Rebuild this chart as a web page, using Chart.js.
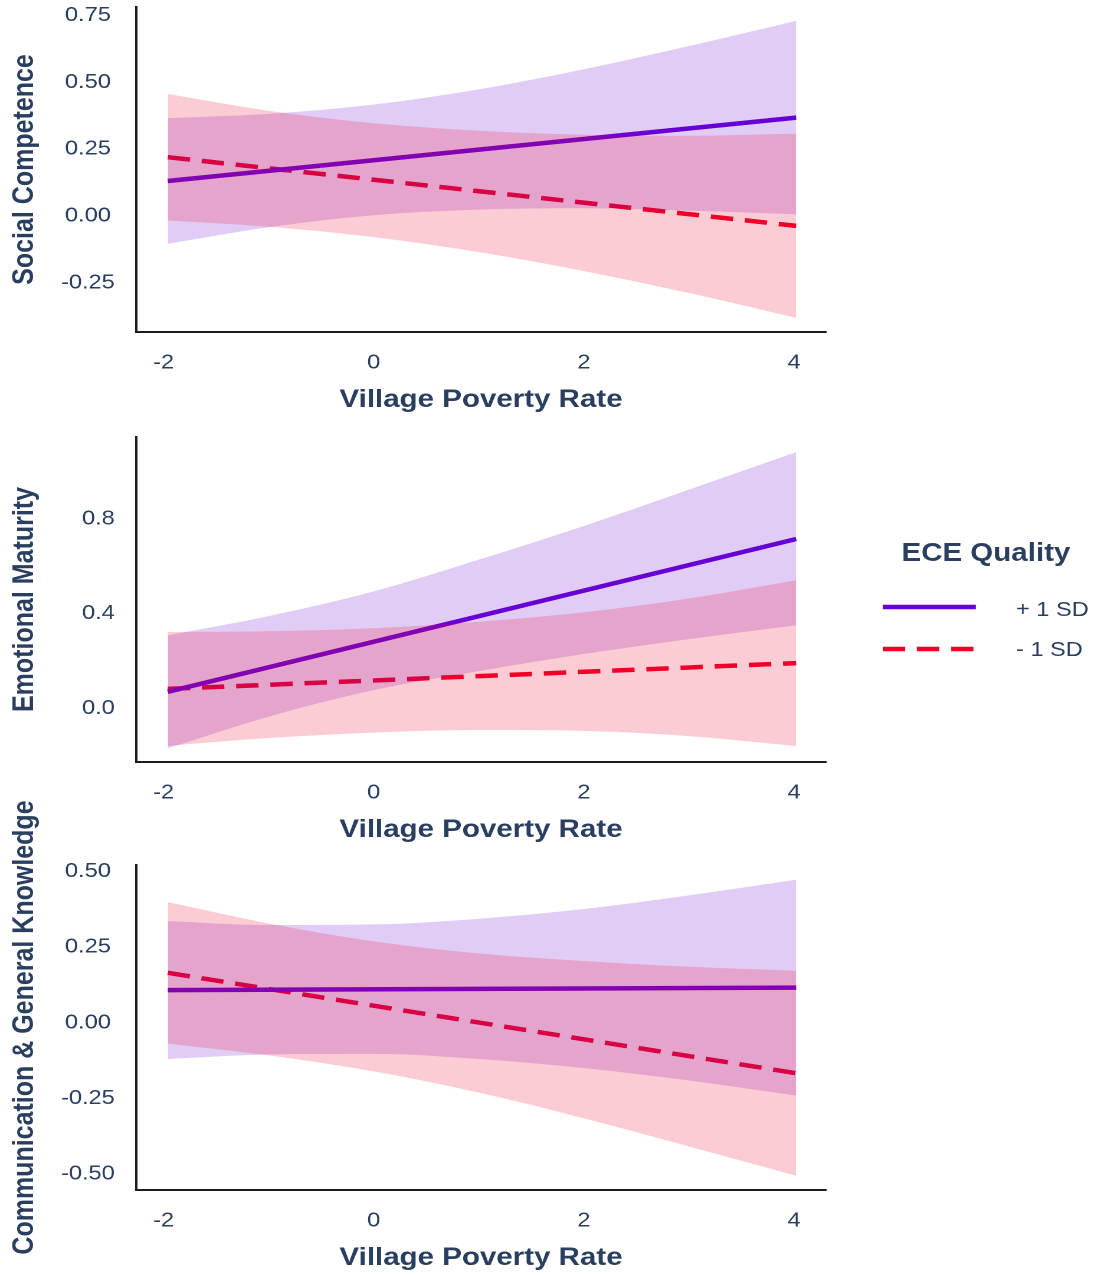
<!DOCTYPE html>
<html>
<head>
<meta charset="utf-8">
<title>ECE Quality × Village Poverty Rate</title>
<script src="https://cdn.jsdelivr.net/npm/chart.js@4/dist/chart.umd.min.js"></script>
<style>
  html, body { margin: 0; padding: 0; background: #ffffff; overflow: hidden; }
  /* the whole figure is laid out on a 927px-wide stage and widened to the page */
  #stage { position: absolute; left: 0; top: 0; width: 927px; height: 1275px;
           transform: scaleX(1.18); transform-origin: 0 0; }
  #stage canvas { position: absolute; left: 0; }
  .legend-title { position: absolute; left: 764px; top: 537px; white-space: nowrap;
                  font: bold 25px 'Liberation Sans', Arial, sans-serif; line-height: 30px; color: #2a3f5f; }
  .legend-label { position: absolute; left: 861px; white-space: nowrap;
                  font: 20px 'Liberation Sans', Arial, sans-serif; line-height: 24px; color: #2a3f5f; }
  #legendLines { position: absolute; left: 748px; top: 597px; }
</style>
</head>
<body>
<div id="stage">
  <canvas id="social" width="720" height="428" style="top:-13px"></canvas>
  <canvas id="emotion" width="720" height="428" style="top:417px"></canvas>
  <canvas id="comm" width="720" height="493" style="top:780px"></canvas>
  <div id="legend"></div>
</div>
<script>
// ---- x grid (village poverty rate, standardized) ----
const povertyGrid = [-1.96, -1, 0, 1, 2, 3, 4.02];
const lineEnds = [-1.96, 4.02];
const povertyTicks = [-2, 0, 2, 4];

// ---- series ----
const seriesLabels = ['+ 1 SD', '- 1 SD'];
const legendTitle = 'ECE Quality';
const xTitle = 'Village Poverty Rate';

// Social Competence
const socialHighFit   = [0.131, 0.368];
const socialLowFit    = [0.220, -0.037];
const socialHighUpper = [0.366, 0.382, 0.417, 0.474, 0.549, 0.636, 0.730];
const socialHighLower = [-0.104, -0.042, 0.003, 0.024, 0.029, 0.020, 0.006];
const socialLowUpper  = [0.457, 0.394, 0.347, 0.319, 0.304, 0.300, 0.308];
const socialLowLower  = [-0.017, -0.040, -0.079, -0.135, -0.206, -0.288, -0.381];
const socialTicks = [-0.25, 0, 0.25, 0.5, 0.75];

// Emotional Maturity
const emotionHighFit   = [0.071, 0.715];
const emotionLowFit    = [0.083, 0.192];
const emotionHighUpper = [0.309, 0.390, 0.494, 0.628, 0.770, 0.923, 1.081];
const emotionHighLower = [-0.167, -0.034, 0.078, 0.158, 0.230, 0.293, 0.351];
const emotionLowUpper  = [0.323, 0.326, 0.339, 0.366, 0.406, 0.464, 0.541];
const emotionLowLower  = [-0.157, -0.124, -0.101, -0.090, -0.094, -0.116, -0.158];
const emotionTicks = [0, 0.4, 0.8];

// Communication & General Knowledge
const commHighFit   = [0.108, 0.116];
const commLowFit    = [0.165, -0.167];
const commHighUpper = [0.336, 0.323, 0.325, 0.344, 0.376, 0.421, 0.473];
const commHighLower = [-0.120, -0.105, -0.103, -0.120, -0.150, -0.191, -0.241];
const commLowUpper  = [0.399, 0.328, 0.269, 0.229, 0.204, 0.185, 0.172];
const commLowLower  = [-0.069, -0.108, -0.161, -0.231, -0.316, -0.409, -0.506];
const commTicks = [-0.5, -0.25, 0, 0.25, 0.5];

// ---- styling ----
const FONT = "'Liberation Sans', Arial, Helvetica, sans-serif";
const TEXT = '#2a3f5f';
const AXIS = '#1c1c1c';
const HIGH_LINE = 'rgb(104, 0, 214)';
const LOW_LINE = 'rgb(238, 0, 40)';
const HIGH_BAND = 'rgba(102, 0, 204, 0.2)';
const LOW_BAND = 'rgba(240, 0, 40, 0.2)';
const LOW_DASH = [19, 10];
const LINE_W = 4.5;
const CLEAR = 'rgba(0,0,0,0)';

Chart.defaults.font.family = FONT;

function pts(xs, ys) { return xs.map((x, i) => ({ x: x, y: ys[i] })); }

function bandSet(xs, ys, fillColor, target, order) {
  return {
    data: pts(xs, ys), borderColor: CLEAR, borderWidth: 1, pointRadius: 0,
    backgroundColor: fillColor, fill: target === null ? false : { target: target },
    cubicInterpolationMode: 'monotone', order: order
  };
}

function buildPanel(id, padTop, spec) {
  const datasets = [
    { label: seriesLabels[0], data: pts(lineEnds, spec.highFit), borderColor: HIGH_LINE,
      borderWidth: LINE_W, pointRadius: 0, fill: false, order: 3 },
    { label: seriesLabels[1], data: pts(lineEnds, spec.lowFit), borderColor: LOW_LINE,
      borderWidth: LINE_W, borderDash: LOW_DASH, pointRadius: 0, fill: false, order: 3 },
    bandSet(povertyGrid, spec.highLower, HIGH_BAND, null, 2),
    bandSet(povertyGrid, spec.highUpper, HIGH_BAND, 2, 2),
    bandSet(povertyGrid, spec.lowLower, LOW_BAND, null, 1),
    bandSet(povertyGrid, spec.lowUpper, LOW_BAND, 4, 1)
  ];
  return new Chart(document.getElementById(id), {
    type: 'line',
    data: { datasets: datasets },
    options: {
      responsive: false,
      animation: false,
      devicePixelRatio: 2,
      layout: { padding: { top: padTop, left: 0, right: 20, bottom: 0 } },
      plugins: { legend: { display: false }, tooltip: { enabled: false } },
      scales: {
        x: {
          type: 'linear', min: -2.262, max: 4.304,
          afterBuildTicks: s => { s.ticks = povertyTicks.map(v => ({ value: v })); },
          afterFit: s => { s.height = 83; },
          grid: { display: false, drawTicks: false },
          border: { display: true, color: AXIS, width: 2 },
          ticks: { padding: 19, color: TEXT, font: { size: 20 }, maxRotation: 0, autoSkip: false,
                   callback: v => String(v) },
          title: { display: true, text: xTitle, color: TEXT,
                   font: { size: 25, weight: 'bold' }, padding: { top: 0, bottom: 0 } }
        },
        y: {
          min: spec.yMin, max: spec.yMax,
          afterBuildTicks: s => { s.ticks = spec.ticks.map(v => ({ value: v })); },
          afterFit: s => { s.width = 115.3; },
          grid: { display: false, drawTicks: true, tickLength: 18 },
          border: { display: true, color: AXIS, width: 2 },
          ticks: { padding: 0, crossAlign: 'center', color: TEXT, font: { size: 20 },
                   callback: v => Number(v).toFixed(spec.decimals) },
          title: { display: true, text: spec.title, color: TEXT,
                   font: { size: 25, weight: 'bold' }, padding: { top: 6, bottom: 0 } }
        }
      }
    }
  });
}

buildPanel('social', 20, {
  title: 'Social Competence', yMin: -0.434, yMax: 0.782, ticks: socialTicks, decimals: 2,
  highFit: socialHighFit, lowFit: socialLowFit,
  highUpper: socialHighUpper, highLower: socialHighLower,
  lowUpper: socialLowUpper, lowLower: socialLowLower
});

buildPanel('emotion', 20, {
  title: 'Emotional Maturity', yMin: -0.225, yMax: 1.145, ticks: emotionTicks, decimals: 1,
  highFit: emotionHighFit, lowFit: emotionLowFit,
  highUpper: emotionHighUpper, highLower: emotionHighLower,
  lowUpper: emotionLowUpper, lowLower: emotionLowLower
});

buildPanel('comm', 85, {
  title: 'Communication & General Knowledge', yMin: -0.553, yMax: 0.5215, ticks: commTicks, decimals: 2,
  highFit: commHighFit, lowFit: commLowFit,
  highUpper: commHighUpper, highLower: commHighLower,
  lowUpper: commLowUpper, lowLower: commLowLower
});

// ---- shared legend ----
(function drawLegend() {
  const box = document.getElementById('legend');
  const t = document.createElement('div');
  t.className = 'legend-title';
  t.textContent = legendTitle;
  box.appendChild(t);

  const ns = 'http://www.w3.org/2000/svg';
  const svg = document.createElementNS(ns, 'svg');
  svg.setAttribute('id', 'legendLines');
  svg.setAttribute('width', '80');
  svg.setAttribute('height', '60');
  const rows = [
    { y: 10, color: HIGH_LINE, dash: null, top: 597 },
    { y: 52, color: LOW_LINE, dash: LOW_DASH, top: 637 }
  ];
  rows.forEach((r, i) => {
    const ln = document.createElementNS(ns, 'line');
    ln.setAttribute('x1', '0'); ln.setAttribute('x2', '79');
    ln.setAttribute('y1', String(r.y)); ln.setAttribute('y2', String(r.y));
    ln.setAttribute('stroke', r.color);
    ln.setAttribute('stroke-width', String(LINE_W));
    if (r.dash) ln.setAttribute('stroke-dasharray', r.dash.join(' '));
    svg.appendChild(ln);
    const lab = document.createElement('div');
    lab.className = 'legend-label';
    lab.style.top = r.top + 'px';
    lab.textContent = seriesLabels[i];
    box.appendChild(lab);
  });
  box.appendChild(svg);
})();
</script>
</body>
</html>
